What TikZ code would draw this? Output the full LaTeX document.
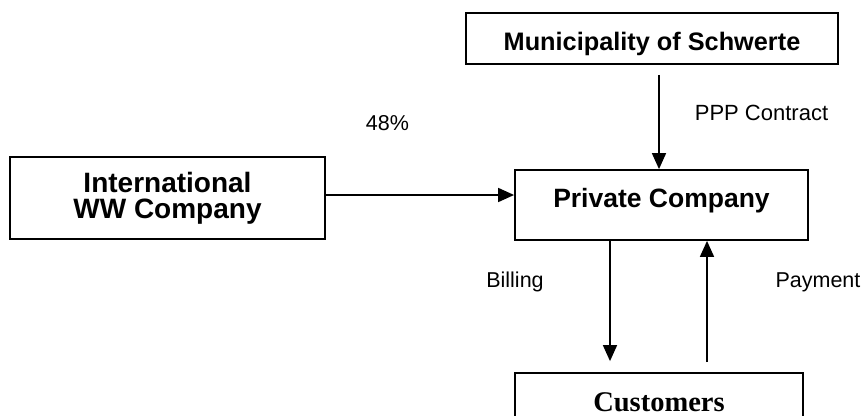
\documentclass[tikz,border=0pt]{standalone}
\usepackage{fontspec}
\setmainfont{Liberation Sans}
\newfontfamily\serifbf{Liberation Serif}
\usetikzlibrary{arrows.meta}
\begin{document}
\begin{tikzpicture}[x=1pt,y=-1pt,
  boxnode/.style={draw,line width=1.8pt,inner sep=0pt,font=\fontsize{26}{24}\selectfont\bfseries},
  lbl/.style={inner sep=0pt,font=\fontsize{21.5}{24}\selectfont},
  arr/.style={line width=1.7pt,-{Triangle[length=16pt,width=14pt]}}]
\useasboundingbox (0,0) rectangle (861,415);
\node[boxnode,minimum width=372pt,minimum height=51pt,text height=23pt,text depth=0pt,font=\fontsize{25.3}{24}\selectfont\bfseries] (muni) at (652,38.5) {Municipality of Schwerte};
\node[boxnode,minimum width=293pt,minimum height=70pt,text height=19pt,text depth=15pt,font=\fontsize{26.5}{24}\selectfont\bfseries] (priv) at (661.5,205) {Private Company};
\node[boxnode,minimum width=315pt,minimum height=82pt,align=center,font=\fontsize{28}{26}\selectfont\bfseries] (intl) at (167.5,198) {International\\WW Company};
\node[boxnode,minimum width=288pt,minimum height=67pt,text height=19pt,text depth=10pt,font=\fontsize{28.5}{30}\serifbf\bfseries] (cust) at (659,406.5) {Customers};
\node[lbl,font=\fontsize{22}{24}\selectfont] (ppp) at (761.5,113) {PPP Contract};
\node[lbl] (pct) at (387.5,123) {48\%};
\node[lbl] (bill) at (515,282) {Billing};
\node[lbl] (pay) at (818,282) {Payment};
\draw[arr,shorten <=10pt] ([xshift=-2.5pt]priv.north |- muni.south) -- ([xshift=-2.5pt]priv.north);
\draw[arr] ([yshift=3pt]intl.east) -- ([yshift=3pt]intl.east -| priv.west);
\draw[arr,shorten >=11pt] ([xshift=-51.5pt]priv.south) -- ([xshift=-51.5pt]priv.south |- cust.north);
\draw[arr,shorten <=10pt] ([xshift=45.5pt]priv.south |- cust.north) -- ([xshift=45.5pt]priv.south);
\end{tikzpicture}
\end{document}
